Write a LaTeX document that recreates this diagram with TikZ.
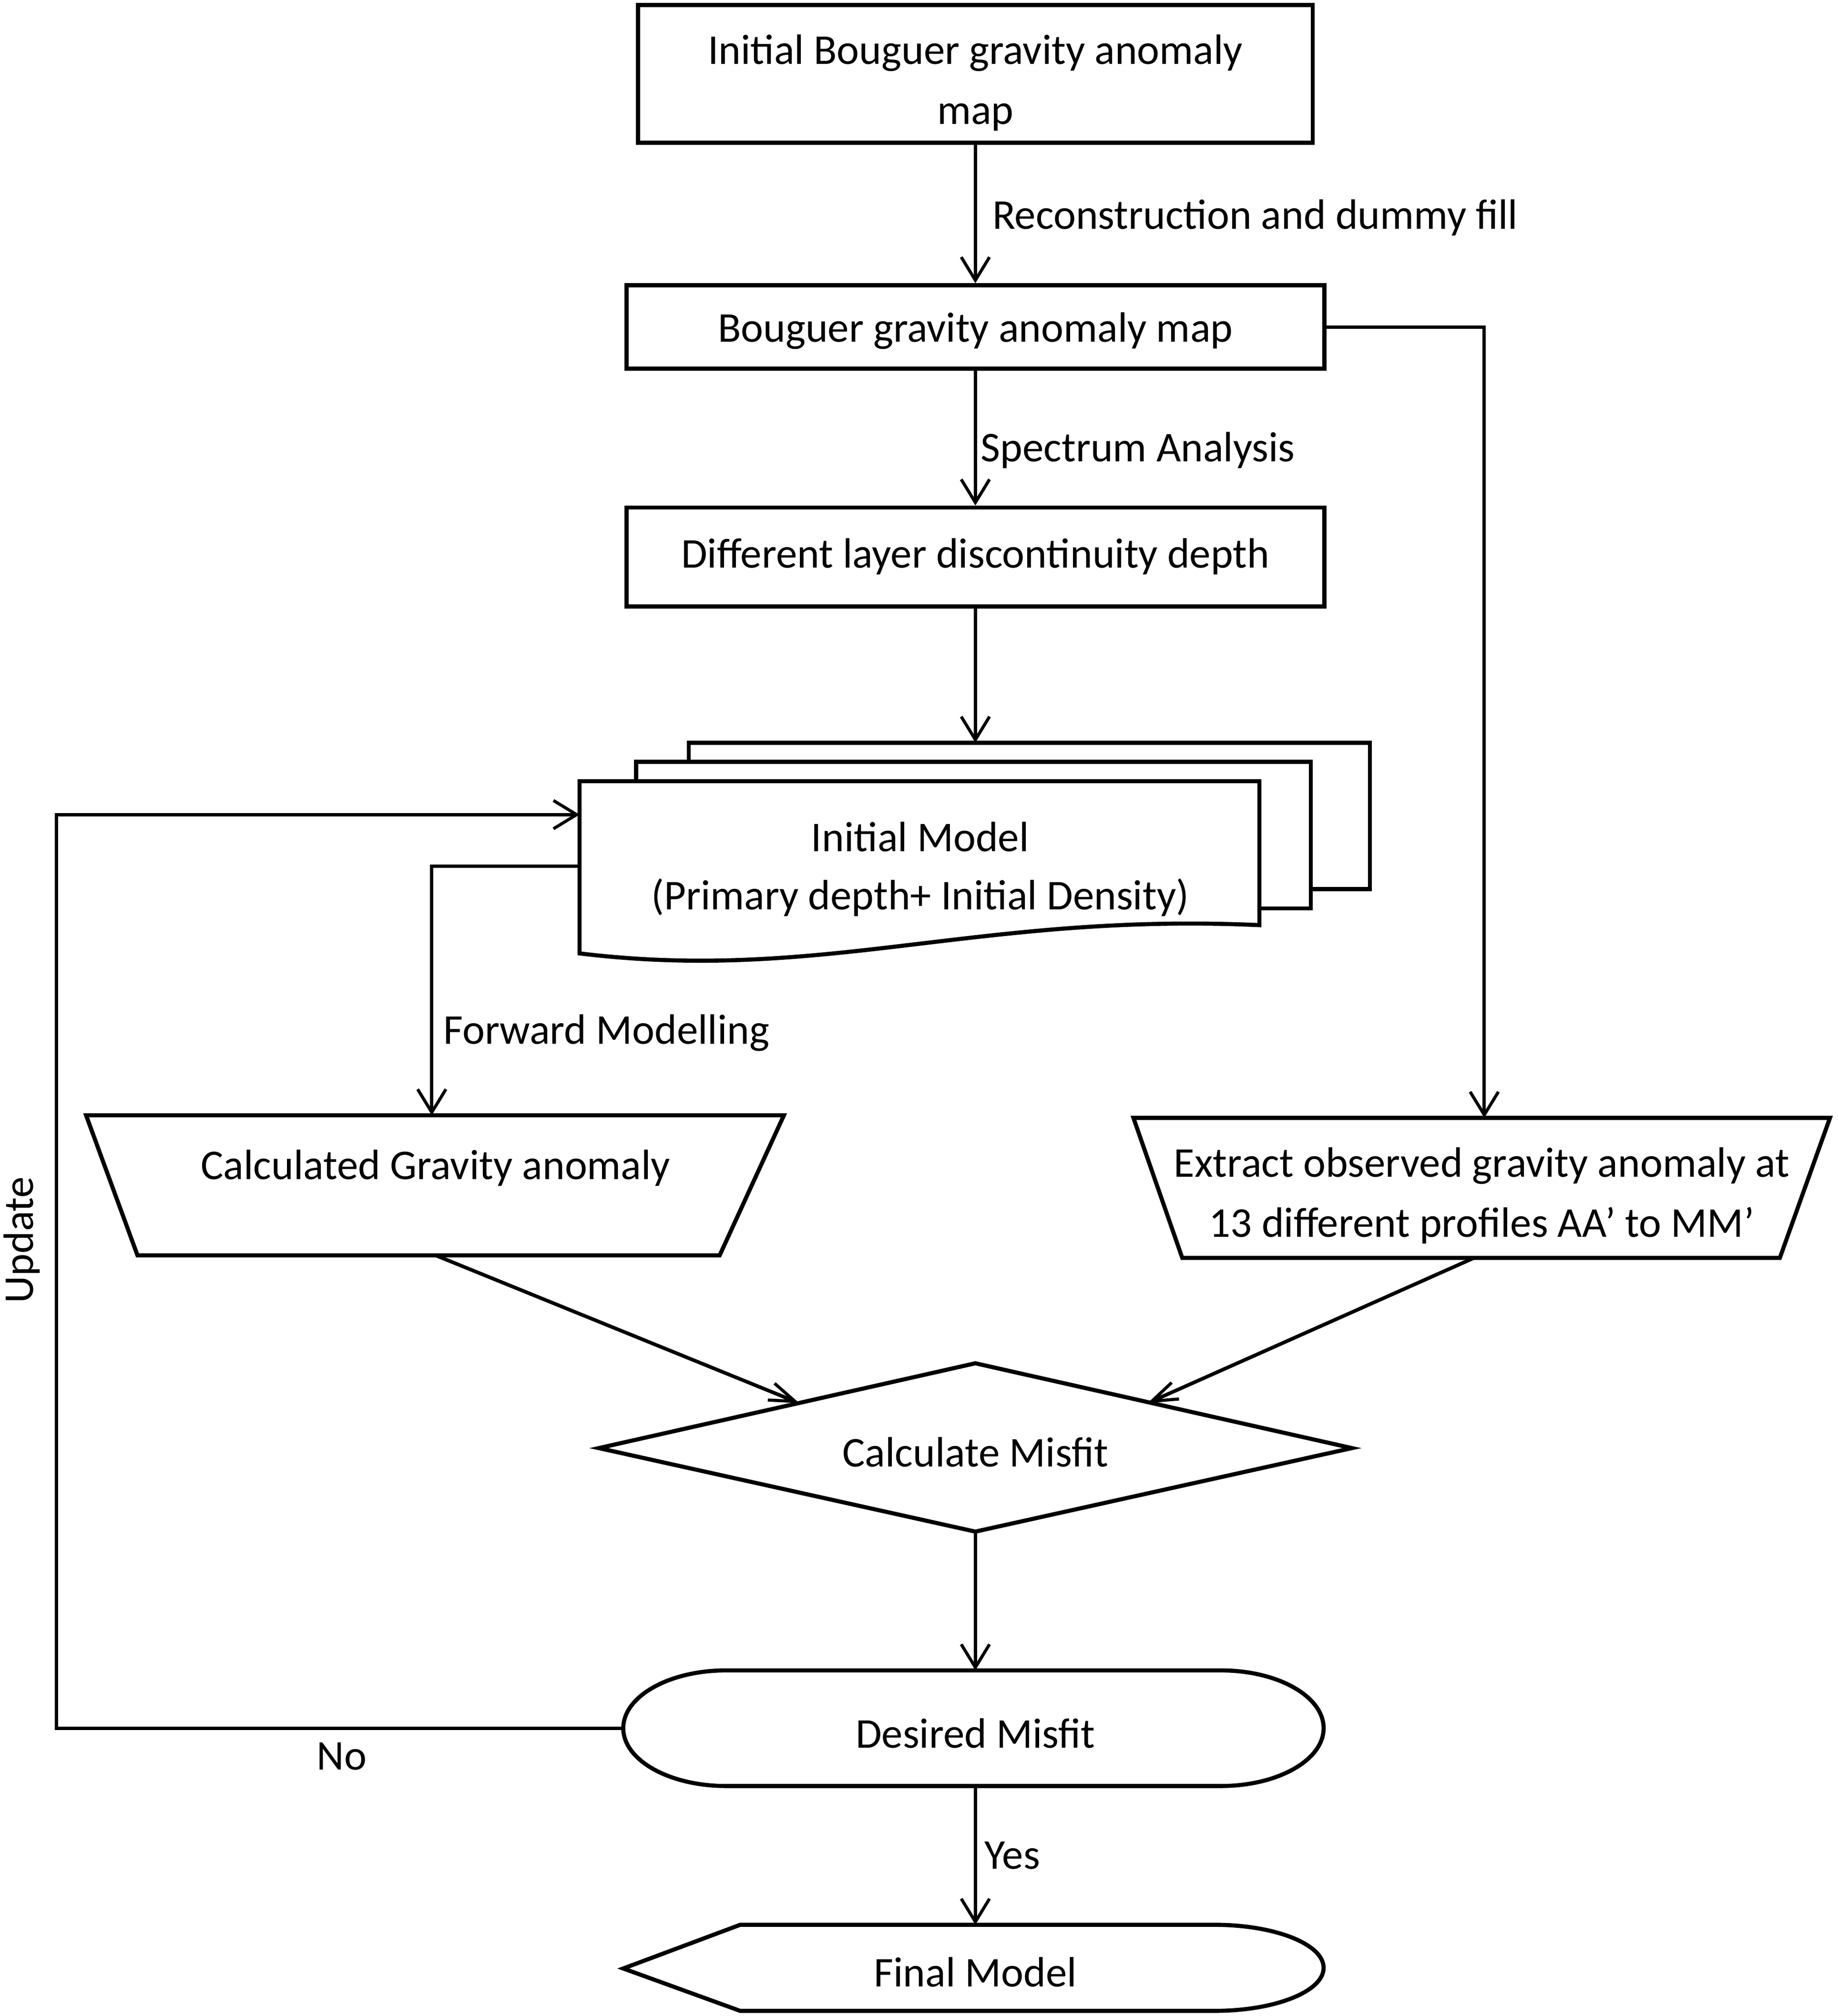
\documentclass[tikz,border=0pt]{standalone}
\usepackage{fontspec}
\setmainfont{Carlito}
\usetikzlibrary{arrows.meta}
\begin{document}
\begin{tikzpicture}[x=1pt,y=-1pt,
  shp/.style={draw, line width=3.2pt, fill=white, line join=miter},
  conn/.style={line width=2.6pt, -{Straight Barb[length=18pt,width=22pt,line width=2.4pt]}},
  connd/.style={line width=2.8pt, -{Straight Barb[length=20pt,width=14pt,line width=2.4pt]}},
  txt/.style={font=\fontsize{33}{47}\selectfont, align=center, inner sep=0pt, yshift=-3pt},
  lbl/.style={font=\fontsize{33}{47}\selectfont, inner sep=0pt, yshift=-3pt},
  boxn/.style={draw, line width=3.2pt, fill=white, inner sep=0pt}]
\useasboundingbox (0,0) rectangle (1430,1569);

% boxes
\node[boxn, minimum width=525pt, minimum height=107pt] (b1) at (759,57.5) {};
\node[txt] (b1t) at (759,61.5) {Initial Bouguer gravity anomaly\\map};
\node[boxn, minimum width=543pt, minimum height=65pt] (b2) at (759,254.5) {};
\node[txt] (b2t) at (759,254.5) {Bouguer gravity anomaly map};
\node[boxn, minimum width=543pt, minimum height=77pt] (b3) at (759,433.5) {};
\node[txt] (b3t) at (759,430) {Different layer discontinuity depth};

% document stack
\draw[shp] (536,578) rectangle (1066,692);
\draw[shp] (495,593) rectangle (1020,707);
\draw[shp] (451,742) -- (451,608) -- (980,608) -- (980,720) .. controls (760,710) and (640,765) .. (451,742) -- cycle;
\node[txt] (im) at (716,673.5) {Initial Model\\[-2pt](Primary depth+ Initial Density)};
\coordinate (pgtop) at (759,578);
\coordinate (fin) at (451,634);
\coordinate (fout) at (451,674);

% calculated gravity anomaly
\draw[shp] (67,868) -- (610,868) -- (560,977) -- (107,977) -- cycle;
\node[txt] (cg) at (339,906) {Calculated Gravity anomaly};
\coordinate (cgtop) at (336,868);
\coordinate (cgbot) at (339,977);

% extract observed
\draw[shp] (882,870) -- (1424,870) -- (1385,979) -- (920,979) -- cycle;
\node[txt] (ex) at (1153,927.5) {Extract observed gravity anomaly at\\13 different profiles AA’ to MM’};
\coordinate (extop) at (1155,870);
\coordinate (exbot) at (1147,979);

% diamond
\draw[shp] (466,1127) -- (759,1061) -- (1052,1127) -- (759,1192) -- cycle;
\node[txt] (cm) at (759,1127) {Calculate Misfit};
\coordinate (cmL) at (622,1092);
\coordinate (cmR) at (893,1092);
\coordinate (cmbot) at (759,1192);

% desired misfit
\draw[shp] (565,1300) -- (950,1300) arc[start angle=90, end angle=-90, x radius=80pt, y radius=45pt] -- (565,1390) arc[start angle=270, end angle=90, x radius=80pt, y radius=45pt] -- cycle;
\node[txt] (dm) at (759,1346) {Desired Misfit};
\coordinate (dmtop) at (759,1300);
\coordinate (dmbot) at (759,1390);
\coordinate (dmwest) at (485,1345);

% final model
\draw[shp] (485,1532) -- (576,1498) -- (945,1498) arc[start angle=90, end angle=-90, x radius=85pt, y radius=33.5pt] -- (576,1565) -- cycle;
\node[txt] (fm) at (759,1532) {Final Model};
\coordinate (fmtop) at (759,1498);

% connectors
\draw[conn] (b1.south) -- (b2.north) node[lbl, midway, anchor=west, xshift=12pt] {Reconstruction and dummy fill};
\draw[conn] (b2.south) -- (b3.north) node[lbl, pos=0.56, anchor=west, xshift=3pt] {Spectrum Analysis};
\draw[conn] (b3.south) -- (pgtop);
\draw[conn] (b2.east) -| (extop);
\draw[conn] (fout) -| (cgtop);
\node[lbl, anchor=west] (fwd) at (345,801) {Forward Modelling};
\draw[connd] (cgbot) -- (cmL);
\draw[connd] (exbot) -- (cmR);
\draw[conn] (cmbot) -- (dmtop);
\draw[conn] (dmbot) -- (fmtop) node[lbl, midway, anchor=west, xshift=6pt, yshift=3pt] {Yes};
\draw[conn] (dmwest) -- (44,1345) |- (fin);
\node[lbl] (no) at (266,1364) {No};
\node[font=\fontsize{33}{47}\selectfont, inner sep=0pt, rotate=90] (upd) at (17,965) {Update};
\end{tikzpicture}
\end{document}
